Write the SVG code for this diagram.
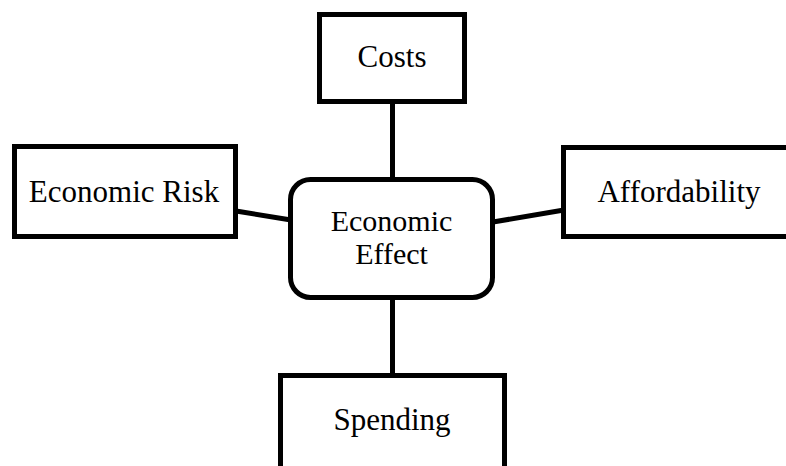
<svg xmlns="http://www.w3.org/2000/svg" width="786" height="466" viewBox="0 0 786 466">
  <style>
    .box { fill: #ffffff; stroke: #000000; stroke-width: 5; }
    .link { stroke: #000000; stroke-width: 5; fill: none; }
    .label { font-family: "Liberation Serif", "Times New Roman", serif; font-size: 31px; fill: #000000; text-anchor: middle; }
    .center-label { font-size: 30px; }
  </style>
  <rect width="786" height="466" fill="#ffffff"/>
  <g id="connectors">
    <line class="link" x1="392.5" y1="101" x2="392.5" y2="180"/>
    <line class="link" x1="236" y1="211" x2="291" y2="220"/>
    <line class="link" x1="493" y1="222" x2="564" y2="210"/>
    <line class="link" x1="392.5" y1="298" x2="392.5" y2="376"/>
  </g>
  <g id="costs">
    <rect class="box" x="319.5" y="14.5" width="145" height="87"/>
    <text class="label" x="392" y="67">Costs</text>
  </g>
  <g id="economic-risk">
    <rect class="box" x="14.5" y="146.5" width="221" height="90"/>
    <text class="label" x="124" y="202">Economic Risk</text>
  </g>
  <g id="affordability">
    <rect class="box" x="563.5" y="147.5" width="233" height="89"/>
    <text class="label" x="679" y="202">Affordability</text>
  </g>
  <g id="economic-effect">
    <rect class="box" x="290.5" y="179.5" width="202" height="118" rx="20" ry="20"/>
    <text class="label center-label" x="391.5" y="231">Economic</text>
    <text class="label center-label" x="391.5" y="264">Effect</text>
  </g>
  <g id="spending">
    <rect class="box" x="280.5" y="375.5" width="224" height="100"/>
    <text class="label" x="392" y="430">Spending</text>
  </g>
</svg>
